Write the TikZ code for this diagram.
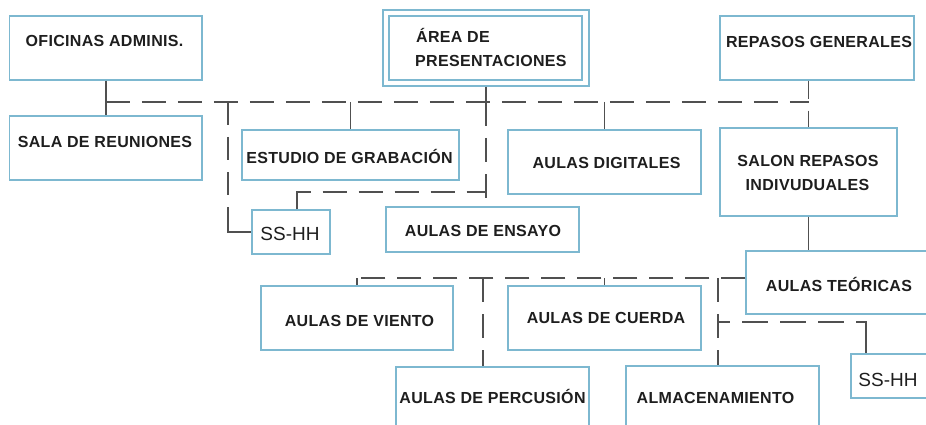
\documentclass[tikz,border=0pt]{standalone}
\usepackage{fontspec}
\setmainfont{Liberation Sans}
\newfontfamily\lblfont[LetterSpace=2]{Liberation Sans}
\definecolor{boxblue}{RGB}{125,184,208}
\definecolor{linegray}{RGB}{80,80,80}
\definecolor{txt}{RGB}{30,30,30}
\tikzset{
  room/.style={draw=boxblue, line width=1.3pt, inner sep=0pt},
  lbl/.style={font=\lblfont\bfseries\fontsize{16}{19}\selectfont, text=txt, inner sep=0pt},
  sslbl/.style={font=\fontsize{19}{22}\selectfont, text=txt, inner sep=0pt},
  link/.style={draw=linegray, line width=1.7pt},
  dlink/.style={link, dash pattern=on 24pt off 12pt},
}
\begin{document}
\begin{tikzpicture}[x=1pt,y=-1pt]
\useasboundingbox (0,0) rectangle (926,425);
\clip (0,0) rectangle (926,425);
% boxes
\node[room, minimum width=192.5pt, minimum height=64pt] (ofi) at (105.75,48) {};
\node[room, minimum width=192.5pt, minimum height=64pt] (sala) at (105.75,148) {};
\node[room, minimum width=206pt, minimum height=76pt] (areaout) at (486,48) {};
\node[room, minimum width=193pt, minimum height=64pt] (area) at (485.5,48) {};
\node[room, minimum width=194pt, minimum height=64pt] (rep) at (817,48) {};
\node[room, minimum width=217pt, minimum height=50pt] (est) at (350.5,155) {};
\node[room, minimum width=193pt, minimum height=64pt] (dig) at (604.5,162) {};
\node[room, minimum width=177pt, minimum height=88pt] (salon) at (808.5,172) {};
\node[room, minimum width=78pt, minimum height=44pt] (ssl) at (291,232) {};
\node[room, minimum width=193pt, minimum height=45pt] (ens) at (482.5,229.5) {};
\node[room, minimum width=189pt, minimum height=63pt] (teo) at (840.5,282.5) {};
\node[room, minimum width=192pt, minimum height=64pt] (vie) at (357,318) {};
\node[room, minimum width=193pt, minimum height=64pt] (cue) at (604.5,318) {};
\node[room, minimum width=193pt, minimum height=73pt] (per) at (492.5,403.5) {};
\node[room, minimum width=193pt, minimum height=74pt] (alm) at (722.5,403) {};
\node[room, minimum width=89pt, minimum height=44pt] (ssr) at (895.5,376) {};
% labels
\node[lbl, anchor=base] (tofi) at (104.5,47) {OFICINAS ADMINIS.};
\node[lbl, anchor=base] (tsala) at (105,147) {SALA DE REUNIONES};
\node[lbl, anchor=base] (test) at (349.5,163) {ESTUDIO DE GRABACIÓN};
\node[lbl, anchor=base west] (tarea1) at (416,43) {ÁREA DE};
\node[lbl, anchor=base west] (tarea2) at (415,67) {PRESENTACIONES};
\node[lbl, anchor=base] (trep) at (819,48) {REPASOS GENERALES};
\node[lbl, anchor=base] (tdig) at (606.5,168) {AULAS DIGITALES};
\node[lbl, anchor=base] (tsal1) at (808,166) {SALON REPASOS};
\node[lbl, anchor=base] (tsal2) at (807.5,190) {INDIVUDUALES};
\node[lbl, anchor=base] (tens) at (483,236) {AULAS DE ENSAYO};
\node[lbl, anchor=base] (tvie) at (359.5,326) {AULAS DE VIENTO};
\node[lbl, anchor=base] (tcue) at (606,323.5) {AULAS DE CUERDA};
\node[lbl, anchor=base] (tper) at (492.5,403) {AULAS DE PERCUSIÓN};
\node[lbl, anchor=base] (tteo) at (839,291) {AULAS TEÓRICAS};
\node[lbl, anchor=base] (talm) at (715.5,403) {ALMACENAMIENTO};
\node[sslbl, anchor=base] (tssl) at (290,240) {SS-HH};
\node[sslbl, anchor=base] (tssr) at (888,386) {SS-HH};
% junction coordinates
\coordinate (j0) at (ofi.south |- 0,102);
\coordinate (j1) at (salon.north |- 0,102);
\coordinate (ja) at (228,102);
\coordinate (jc) at (areaout.south |- 0,102);
\coordinate (jb) at (areaout.south |- 0,192);
\coordinate (k0) at (vie.north |- 0,278);
\coordinate (k1) at (teo.west |- 0,278);
\coordinate (kp) at (483,278);
\coordinate (ka) at (718,278);
\coordinate (kb) at (718,322);
\coordinate (kc) at (866,322);
% connectors, upper tier
\draw[link] (ofi.south) -- (sala.north);
\draw[dlink] (j0) -- (j1);
\draw[link, dash pattern=on 23pt off 12pt on 23pt off 12pt on 23pt off 12pt on 60pt] (ja) |- (ssl.west);
\draw[link] (est.north |- j0) -- (est.north);
\draw[link] (areaout.south) -- (jc);
\draw[dlink] (jc) -- (ens.north -| jc);
\draw[link, dash pattern=on 31pt off 12pt on 24pt off 12pt on 24pt off 12pt on 24pt off 12pt on 24pt off 12pt on 24pt off 12pt on 40pt] ([xshift=6pt]ssl.north) |- (jb);
\draw[link] (dig.north |- j0) -- (dig.north);
\draw[link, dash pattern=on 18pt off 12pt on 30pt] (rep.south -| salon.north) -- (salon.north);
\draw[link] (salon.south) -- (salon.south |- teo.north);
% connectors, lower tier
\draw[dlink] (k1) -- (k0);
\draw[link] (k0) -- (vie.north);
\draw[dlink] (kp) -- (per.north -| kp);
\draw[link] (cue.north |- k0) -- (cue.north);
\draw[dlink] (ka) -- (alm.north -| ka);
\draw[link, dash pattern=on 12pt off 12pt on 26pt off 12pt on 26pt off 12pt on 26pt off 12pt on 60pt] (kb) -- (kc) -- (ssr.north -| kc);
\end{tikzpicture}
\end{document}
